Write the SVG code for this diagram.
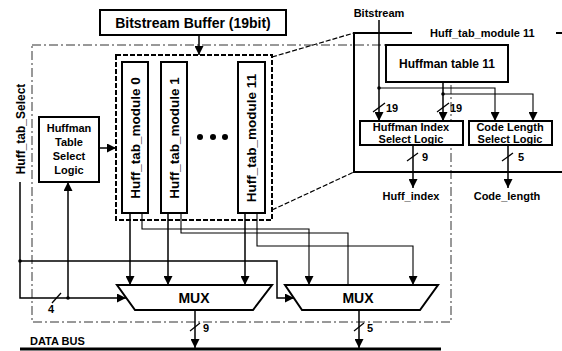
<svg xmlns="http://www.w3.org/2000/svg" width="562" height="351" viewBox="0 0 562 351">
<defs>
<marker id="ah" viewBox="0 0 10 10" refX="10" refY="5" markerWidth="9" markerHeight="9" markerUnits="userSpaceOnUse" orient="auto">
<path d="M0,0 L10,5 L0,10 z" fill="#000"/>
</marker>
<style>
text{font-family:"Liberation Sans",Arial,sans-serif;font-weight:bold;fill:#000}
.box{fill:#fff;stroke:#000;stroke-width:2}
.ln{fill:none;stroke:#000;stroke-width:1.5}
.thin{fill:none;stroke:#000;stroke-width:1.1}
.arr{marker-end:url(#ah)}
.dd{fill:none;stroke:#333;stroke-width:1;stroke-dasharray:9,3,2,3}
.dash{fill:none;stroke:#000;stroke-width:2;stroke-dasharray:5,2}
.zd{fill:none;stroke:#000;stroke-width:1.2;stroke-dasharray:5,2}
.sl{stroke:#000;stroke-width:1.3}
.s11{font-size:11px}
.mid{text-anchor:middle}
</style>
</defs>
<rect width="562" height="351" fill="#fff"/>

<!-- outer dash-dot region -->
<rect class="dd" x="32" y="45" width="419" height="277"/>

<!-- connectors -->
<g id="connectors">
<!-- buffer to modules -->
<line class="ln arr" x1="199" y1="35" x2="199" y2="55"/>
<!-- select logic to modules -->
<line class="ln arr" x1="99" y1="148" x2="116" y2="148"/>
<!-- Huff_tab_Select lines -->
<polyline class="ln arr" points="20,182 20,298 126,298"/>
<line class="ln arr" x1="68" y1="298" x2="68" y2="182"/>
<polyline class="ln arr" points="20,261 277,261 277,298 294,298"/>
<circle cx="20" cy="261" r="1.8"/>
<circle cx="68" cy="298" r="1.8"/>
<line class="sl" x1="52" y1="303" x2="61" y2="293"/>
<text class="s11" x="48" y="313">4</text>
<!-- module outputs to MUX1 -->
<line class="ln arr" x1="130" y1="213" x2="130" y2="285"/>
<line class="ln arr" x1="168" y1="213" x2="168" y2="285"/>
<line class="ln arr" x1="245" y1="213" x2="245" y2="285"/>
<!-- module outputs to MUX2 -->
<polyline class="thin arr" points="142,213 142,229 309,229 309,285"/>
<polyline class="thin" points="181,213 181,233 348,233 348,285"/>
<polyline class="thin arr" points="257,213 257,246 413,246 413,285"/>
<!-- MUX outputs -->
<line class="ln arr" x1="195" y1="310" x2="195" y2="348"/>
<line class="sl" x1="190" y1="331" x2="200" y2="323"/>
<text class="s11" x="203" y="332">9</text>
<line class="ln arr" x1="359" y1="310" x2="359" y2="348"/>
<line class="sl" x1="354" y1="331" x2="364" y2="323"/>
<text class="s11" x="367" y="332">5</text>
<!-- zoom lines -->
<line class="zd" x1="272" y1="57" x2="354" y2="33"/>
<line class="zd" x1="272" y1="210" x2="354" y2="172"/>
<!-- right panel connectors -->
<line class="ln arr" x1="379" y1="20" x2="379" y2="121"/>
<line class="ln arr" x1="443" y1="82" x2="443" y2="121"/>
<polyline class="thin arr" points="379,88 495,88 495,121"/>
<polyline class="thin arr" points="443,94 533,94 533,121"/>
<circle cx="379" cy="88" r="1.8"/>
<circle cx="443" cy="94" r="1.8"/>
<line class="sl" x1="373" y1="112" x2="385" y2="103"/>
<text class="s11" x="386" y="112">19</text>
<line class="sl" x1="437" y1="112" x2="449" y2="103"/>
<text class="s11" x="450" y="112">19</text>
<line class="ln arr" x1="413" y1="145" x2="413" y2="188"/>
<line class="sl" x1="407" y1="161" x2="418" y2="153"/>
<text class="s11" x="422" y="161">9</text>
<line class="ln arr" x1="508" y1="145" x2="508" y2="188"/>
<line class="sl" x1="502" y1="161" x2="513" y2="153"/>
<text class="s11" x="518" y="161">5</text>
</g>

<!-- data bus -->
<g id="databus">
<line x1="20" y1="349" x2="441" y2="349" stroke="#000" stroke-width="3"/>
<text class="s11" x="30" y="345">DATA BUS</text>
</g>

<g id="bitstream-buffer">
<rect class="box" x="100" y="10" width="186" height="25"/>
<text class="mid" x="193" y="28" font-size="14">Bitstream Buffer (19bit)</text>
</g>

<g id="huff-tab-select">
<text class="mid" font-size="12" transform="translate(25,129) rotate(-90)">Huff_tab_Select</text>
</g>

<g id="huffman-table-select-logic">
<rect class="box" x="39" y="117" width="60" height="65"/>
<text class="mid s11" x="69" y="132">Huffman</text>
<text class="mid s11" x="69" y="146">Table</text>
<text class="mid s11" x="69" y="160">Select</text>
<text class="mid s11" x="69" y="174">Logic</text>
</g>

<g id="module-group">
<rect class="dash" x="116" y="55" width="156" height="165"/>
</g>
<g id="module0">
<rect class="box" x="122" y="62" width="26" height="151"/>
<text class="mid" font-size="13.5" transform="translate(140,138) rotate(-90)">Huff_tab_module 0</text>
</g>
<g id="module1">
<rect class="box" x="161" y="62" width="26" height="151"/>
<text class="mid" font-size="13.5" transform="translate(179,138) rotate(-90)">Huff_tab_module 1</text>
</g>
<g id="dots">
<circle cx="200" cy="137" r="3"/>
<circle cx="213" cy="137" r="3"/>
<circle cx="225" cy="137" r="3"/>
</g>
<g id="module11">
<rect class="box" x="238" y="62" width="27" height="151"/>
<text class="mid" font-size="13.5" transform="translate(256,138) rotate(-90)">Huff_tab_module 11</text>
</g>

<g id="mux1">
<polygon points="117,285 272,285 253,310 135,310" fill="#fff" stroke="#000" stroke-width="2"/>
<text class="mid" x="194" y="303" font-size="14">MUX</text>
</g>
<g id="mux2">
<polygon points="285,285 438,285 420,310 302,310" fill="#fff" stroke="#000" stroke-width="2"/>
<text class="mid" x="358" y="303" font-size="14">MUX</text>
</g>

<!-- detail panel -->
<g id="module11-detail">
<polyline points="412,33 354,33 354,172 562,172" fill="none" stroke="#000" stroke-width="2"/>
<line x1="556" y1="33" x2="562" y2="33" stroke="#000" stroke-width="2"/>
<text class="s11" x="430" y="37">Huff_tab_module 11</text>
</g>
<g id="bitstream-label">
<text class="mid s11" x="379" y="17">Bitstream</text>
</g>
<g id="huffman-table-11">
<rect class="box" x="386" y="45" width="122" height="37"/>
<text class="mid" x="447" y="68" font-size="12">Huffman table 11</text>
</g>
<g id="huffman-index-select">
<rect class="box" x="360" y="121" width="103" height="24"/>
<text class="mid s11" x="411" y="131">Huffman Index</text>
<text class="mid s11" x="411" y="143">Select Logic</text>
</g>
<g id="code-length-select">
<rect class="box" x="469" y="121" width="83" height="24"/>
<text class="mid s11" x="510" y="131">Code Length</text>
<text class="mid s11" x="510" y="143">Select Logic</text>
</g>
<g id="outputs">
<text class="mid s11" x="411" y="200">Huff_index</text>
<text class="mid s11" x="507" y="200">Code_length</text>
</g>
</svg>
